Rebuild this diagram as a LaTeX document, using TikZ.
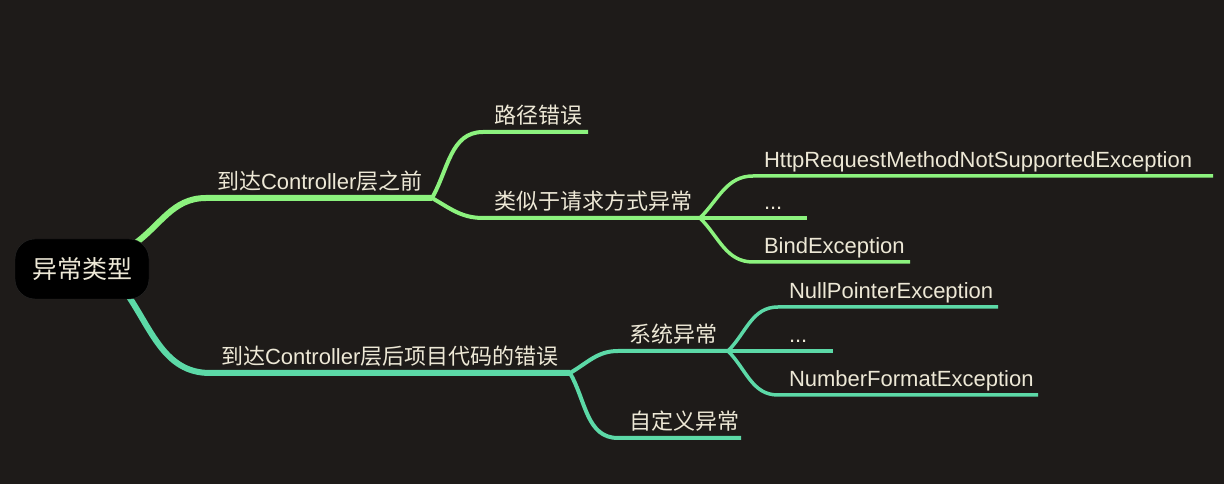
\documentclass[tikz,border=0pt]{standalone}
\usepackage{fontspec}
\setmainfont{Liberation Sans}
\newfontfamily\cjk{Noto Sans CJK SC}
\newcommand{\zh}[1]{{\cjk #1}}
\pgfdeclarelayer{back}
\pgfsetlayers{back,main}
\definecolor{bg_col}{HTML}{1E1B19}
\definecolor{text_col}{HTML}{EDE8D6}
\definecolor{green_col}{HTML}{8CF27E}
\definecolor{teal_col}{HTML}{5CD9A7}
\tikzset{my_map/.style={x=1pt,y=1pt,line cap=round}}
\tikzset{my_root/.style={fill=black, draw=black!85!white, rounded corners=20pt, minimum width=134pt, minimum height=60pt, text=text_col, font=\fontsize{25}{30}\selectfont\cjk}}
\tikzset{my_topic/.style={anchor=south west, inner xsep=11pt, inner ysep=8.5pt, outer sep=0pt, text depth=0pt, align=left, text=text_col, font=\fontsize{22}{26}\selectfont, text width=#1}}
\tikzset{my_upper/.style={draw=green_col}}
\tikzset{my_lower/.style={draw=teal_col}}

\begin{document}
\begin{tikzpicture}[my_map]
    \useasboundingbox (0,0) rectangle (1224,484);
    \begin{pgfonlayer}{back}
        \fill[bg_col] (0,0) rectangle (1224,484);
    \end{pgfonlayer}
    \node[my_root] (root) at (82,215) {异常类型};

    \node[my_topic=204pt] (before) at (206,286) {\zh{到达}Controller\zh{层之前}};
    \node[my_topic=338pt] (after) at (210,111) {\zh{到达}Controller\zh{层后项目代码的错误}};

    \node[my_topic=83pt] (path_err) at (483,352) {\zh{路径错误}};
    \node[my_topic=195pt] (similar) at (483,266) {\zh{类似于请求方式异常}};
    \node[my_topic=438pt] (http_req) at (753,308) {HttpRequestMethodNotSupportedException};
    \node[my_topic=32pt] (dots_a) at (753,266) {...};
    \node[my_topic=135pt] (bind_ex) at (753,222) {BindException};

    \node[my_topic=88pt] (sys_ex) at (618,133) {\zh{系统异常}};
    \node[my_topic=101pt] (custom_ex) at (618,46) {\zh{自定义异常}};
    \node[my_topic=198pt] (null_ptr) at (778,177) {NullPointerException};
    \node[my_topic=33pt] (dots_b) at (778,133) {...};
    \node[my_topic=238pt] (num_fmt) at (778,89) {NumberFormatException};

    \begin{pgfonlayer}{back}
        % upper part
        \draw[my_upper, line width=6pt] ([shift={(-16,-6)}]root.north east) to[out=35,in=180] (before.south west) -- (before.south east);
        \draw[my_upper, line width=4pt] (before.south east) to[out=60,in=180] (path_err.south west) -- (path_err.south east);
        \draw[my_upper, line width=4pt] (before.south east) to[out=-30,in=180] (similar.south west) -- (similar.south east);
        \draw[my_upper, line width=3.5pt] (similar.south east) to[out=45,in=180] (http_req.south west) -- (http_req.south east);
        \draw[my_upper, line width=3.5pt] (similar.south east) -- (dots_a.south west) -- (dots_a.south east);
        \draw[my_upper, line width=3.5pt] (similar.south east) to[out=-45,in=180] (bind_ex.south west) -- (bind_ex.south east);
        % lower part
        \draw[my_lower, line width=6pt] ([shift={(-24,8)}]root.south east) to[out=-55,in=180] (after.south west) -- (after.south east);
        \draw[my_lower, line width=4pt] (after.south east) to[out=30,in=180] (sys_ex.south west) -- (sys_ex.south east);
        \draw[my_lower, line width=4pt] (after.south east) to[out=-60,in=180] (custom_ex.south west) -- (custom_ex.south east);
        \draw[my_lower, line width=3.5pt] (sys_ex.south east) to[out=45,in=180] (null_ptr.south west) -- (null_ptr.south east);
        \draw[my_lower, line width=3.5pt] (sys_ex.south east) -- (dots_b.south west) -- (dots_b.south east);
        \draw[my_lower, line width=3.5pt] (sys_ex.south east) to[out=-45,in=180] (num_fmt.south west) -- (num_fmt.south east);
    \end{pgfonlayer}
\end{tikzpicture}
\end{document}
